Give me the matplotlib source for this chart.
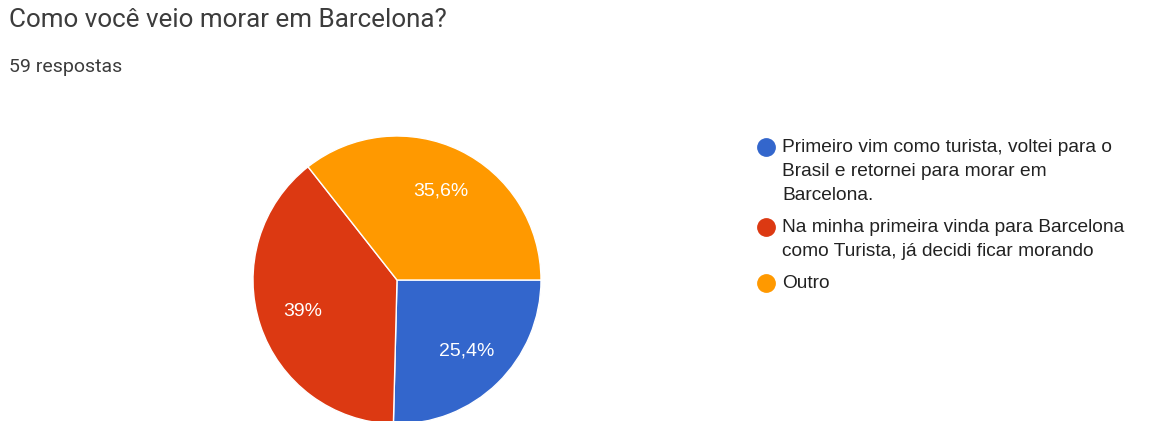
import matplotlib
matplotlib.use("Agg")
import matplotlib.pyplot as plt
from matplotlib.lines import Line2D

# respostas do formulário
pergunta = "Como você veio morar em Barcelona?"
total_respostas = 59
opcoes = [
    "Primeiro vim como turista, voltei para o\nBrasil e retornei para morar em\nBarcelona.",
    "Na minha primeira vinda para Barcelona\ncomo Turista, já decidi ficar morando",
    "Outro",
]
percentuais = [25.4, 39.0, 35.6]
cores = ["#3366cc", "#dc3912", "#ff9900"]


def formata_pct(p):
    txt = f"{p:.1f}".replace(".", ",")
    if txt.endswith(",0"):
        txt = txt[:-2]
    return txt + "%"


W, H = 1174, 421
fig = plt.figure(figsize=(W / 100, H / 100), dpi=100)
fig.patch.set_facecolor("white")

fig.text(9 / W, 1 - 20 / H, pergunta, fontsize=18.7, family="Roboto",
         color="#3c3c3c", va="center", ha="left")
fig.text(9 / W, 1 - 67 / H, f"{total_respostas} respostas", fontsize=14,
         family="Roboto", color="#3c3c3c", va="center", ha="left")

# pizza: centro (397, 280) px, raio 144 px
cx, cy, r = 397, 280, 144
ax = fig.add_axes([(cx - r) / W, (H - cy - r) / H, 2 * r / W, 2 * r / H])
wedges, textos = ax.pie(percentuais, colors=cores, startangle=0, counterclock=False,
                        labels=[formata_pct(p) for p in percentuais],
                        labeldistance=0.69,
                        wedgeprops=dict(edgecolor="white", linewidth=1))
for t in textos:
    t.set_color("white")
    t.set_fontsize(14)
    t.set_family("Liberation Sans")
    t.set_ha("center")
    t.set_va("center")
ax.set_xlim(-1, 1)
ax.set_ylim(-1, 1)
ax.set_aspect("equal")

# legenda manual: uma linha de texto por vez
passo = 24
y = 147
for txt, cor in zip(opcoes, cores):
    fig.add_artist(Line2D([766 / W], [1 - y / H], marker="o", markersize=12.5,
                          color=cor, transform=fig.transFigure, linestyle="none"))
    for linha in txt.split("\n"):
        fig.text(782 / W, 1 - y / H, linha, fontsize=13.8, family="Liberation Sans",
                 color="#222222", va="center", ha="left")
        y += passo
    y += 8

fig.savefig("out.png", dpi=100)
